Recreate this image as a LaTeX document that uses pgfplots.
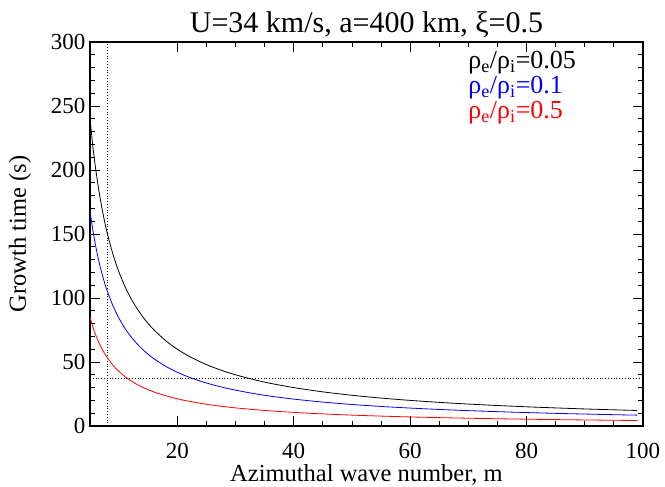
\documentclass[border=0pt]{standalone}
\usepackage{fontspec}
\setmainfont{Liberation Serif}
\usepackage{pgfplots}
\pgfplotsset{compat=1.18}
\begin{document}
\begin{tikzpicture}
\useasboundingbox (-90pt,-61pt) rectangle (575pt,426pt);
\begin{axis}[
  scale only axis, width=553pt, height=384pt,
  xmin=5, xmax=100, ymin=0, ymax=300,
  xtick={20,40,60,80,100}, minor x tick num=3,
  ytick={0,50,...,300}, minor y tick num=4,
  tick align=inside, tick pos=both,
  major tick length=10pt, minor tick length=5pt,
  axis line style={line width=1.2pt},
  every tick/.style={black, line width=0.8pt},
  /pgf/number format/assume math mode=true,
  tick label style={font=\fontsize{23}{27}\selectfont},
  yticklabel style={xshift=-1pt},
  xticklabel style={inner sep=1pt, yshift=-15.7pt},
  label style={font=\fontsize{24.5}{28}\selectfont},
  xlabel={Azimuthal wave number, m},
  ylabel={Growth time (s)},
  xlabel style={inner sep=1pt, yshift=-4pt},
  ylabel style={yshift=13pt},
  title={U=34 km/s, a=400 km, ξ=0.5},
  title style={font=\fontsize{30}{33}\selectfont, yshift=-5pt},
  clip=true,
]
\addplot[black, dotted, line width=0.8pt] coordinates {(8,0) (8,300)};
\addplot[black, dotted, line width=0.8pt] coordinates {(5,37.3) (100,37.3)};
\addplot[black, line width=0.8pt, smooth] coordinates {
(5,240) (5.5,218.18) (6,200) (6.5,184.62) (7,171.43) (7.5,160) (8,150) (9,133.33) (10,120) (11,109.09) (12,100) (13,92.31) (14,85.71) (15,80) (16,75) (18,66.67) (20,60) (22,54.55) (24,50) (26,46.15) (28,42.86) (30,40) (33,36.36) (36,33.33) (40,30) (45,26.67) (50,24) (55,21.82) (60,20) (65,18.46) (70,17.14) (75,16) (80,15) (85,14.12) (90,13.33) (95,12.63) (99,12.12)};
\addplot[blue, line width=0.8pt, smooth] coordinates {
(5,168) (5.5,152.73) (6,140) (6.5,129.23) (7,120) (7.5,112) (8,105) (9,93.33) (10,84) (11,76.36) (12,70) (13,64.62) (14,60) (15,56) (16,52.5) (18,46.67) (20,42) (22,38.18) (24,35) (26,32.31) (28,30) (30,28) (33,25.45) (36,23.33) (40,21) (45,18.67) (50,16.8) (55,15.27) (60,14) (65,12.92) (70,12) (75,11.2) (80,10.5) (85,9.88) (90,9.33) (95,8.84) (99,8.48)};
\addplot[red, line width=0.8pt, smooth] coordinates {
(5,85) (5.5,77.27) (6,70.83) (6.5,65.38) (7,60.71) (7.5,56.67) (8,53.13) (9,47.22) (10,42.5) (11,38.64) (12,35.42) (13,32.69) (14,30.36) (15,28.33) (16,26.56) (18,23.61) (20,21.25) (22,19.32) (24,17.71) (26,16.35) (28,15.18) (30,14.17) (33,12.88) (36,11.81) (40,10.63) (45,9.44) (50,8.5) (55,7.73) (60,7.08) (65,6.54) (70,6.07) (75,5.67) (80,5.31) (85,5) (90,4.72) (95,4.47) (99,4.29)};
\node[anchor=west, font=\fontsize{26}{30}\selectfont, text=black, inner sep=0pt] at (rel axis cs:0.684,0.946) {ρ\textsubscript{e}/ρ\textsubscript{i}=0.05};
\node[anchor=west, font=\fontsize{26}{30}\selectfont, text=blue, inner sep=0pt] at (rel axis cs:0.684,0.880) {ρ\textsubscript{e}/ρ\textsubscript{i}=0.1};
\node[anchor=west, font=\fontsize{26}{30}\selectfont, text=red, inner sep=0pt] at (rel axis cs:0.684,0.815) {ρ\textsubscript{e}/ρ\textsubscript{i}=0.5};
\end{axis}
\end{tikzpicture}
\end{document}
